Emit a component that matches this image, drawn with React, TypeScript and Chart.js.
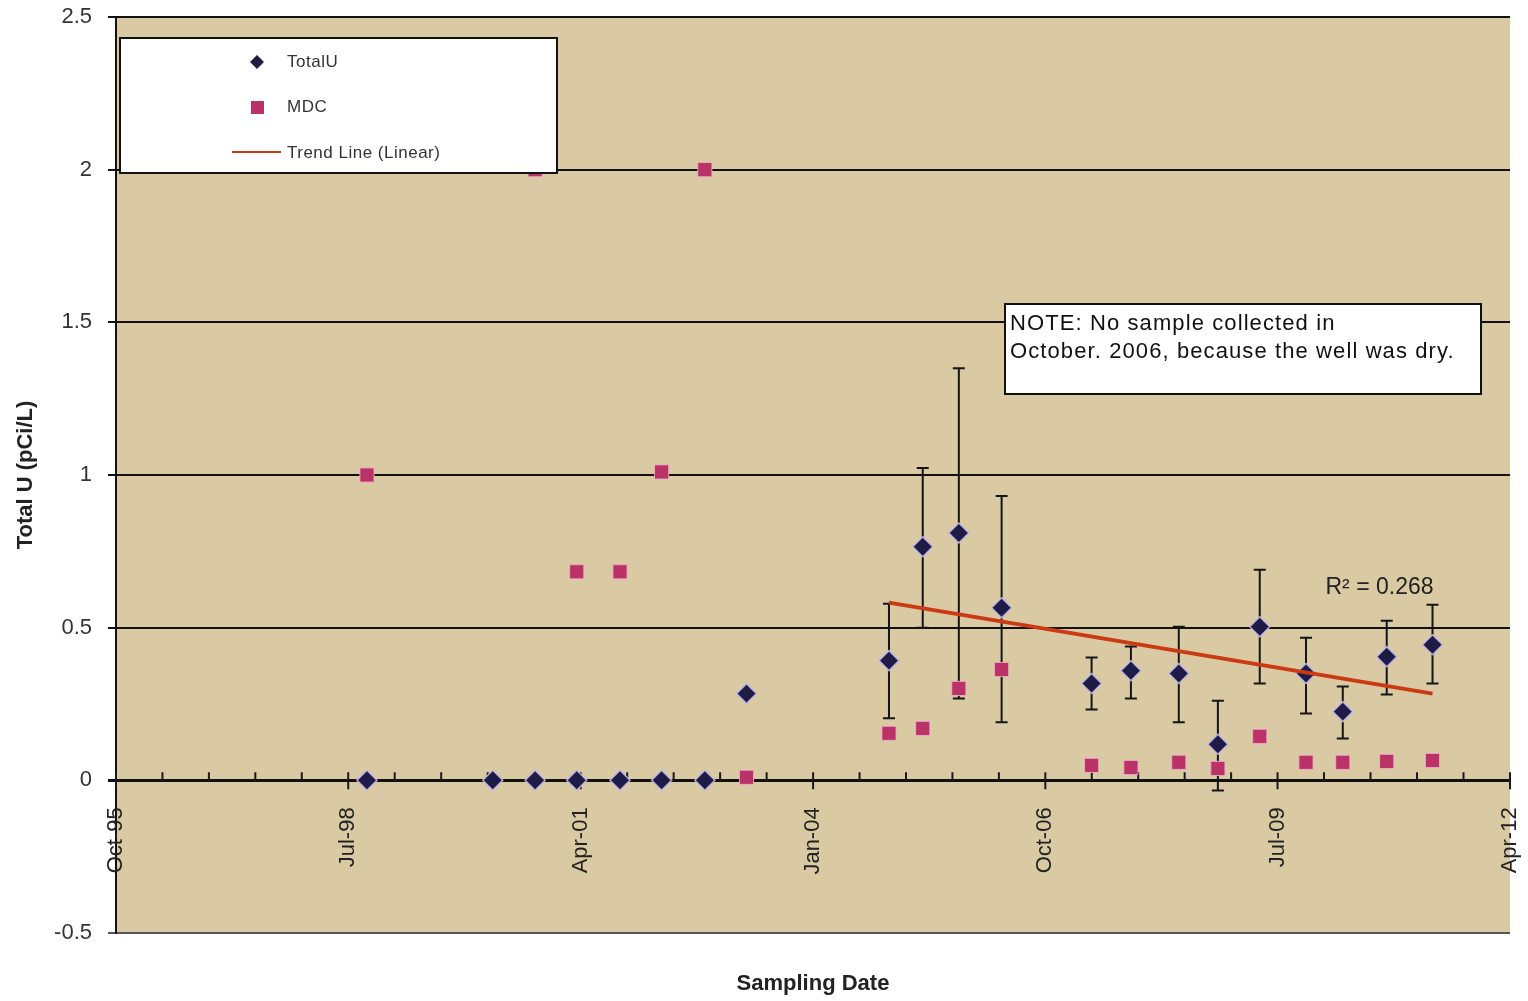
import React, { useEffect, useRef } from "react";
import { Chart, registerables } from "chart.js";

Chart.register(...registerables);

// ---- data ----
const sampleDates = [
  "1998-09-20", "2000-03-17", "2000-09-16", "2001-03-15", "2001-09-18", "2002-03-17", "2002-09-20",
  "2003-03-19", "2004-11-24", "2005-04-19", "2005-09-22", "2006-03-26", "2007-04-19", "2007-10-06",
  "2008-04-30", "2008-10-16", "2009-04-15", "2009-11-01", "2010-04-09", "2010-10-16", "2011-05-02",
];
const totalU = [
  0, 0, 0, 0, 0, 0, 0,
  0.284, 0.392, 0.765, 0.81, 0.565, 0.317, 0.359,
  0.35, 0.118, 0.503, 0.35, 0.225, 0.405, 0.444,
];
const errHigh: (number | null)[] = [
  null, null, null, null, null, null, null,
  null, 0.578, 1.023, 1.35, 0.931, 0.402, 0.438,
  0.503, 0.261, 0.69, 0.467, 0.307, 0.523, 0.575,
];
const errLow: (number | null)[] = [
  null, null, null, null, null, null, null,
  null, 0.203, 0.5, 0.268, 0.19, 0.232, 0.268,
  0.19, -0.033, 0.317, 0.219, 0.137, 0.281, 0.317,
];
const mdc: (number | null)[] = [
  1.0, null, 2.0, 0.683, 0.683, 1.01, 2.0,
  0.01, 0.154, 0.17, 0.301, 0.363, 0.049, 0.042,
  0.059, 0.039, 0.144, 0.059, 0.059, 0.062, 0.065,
];
const trendDates = ["2004-11-24", "2011-05-02"];
const trendValues = [0.582, 0.284];
const rSquaredLabel = "R² = 0.268";

const xTickDates = ["1995-10-01", "1998-07-01", "2001-04-01", "2004-01-01", "2006-10-01", "2009-07-01", "2012-04-01"];
const xTickLabels = ["Oct-95", "Jul-98", "Apr-01", "Jan-04", "Oct-06", "Jul-09", "Apr-12"];
const minorPerMajor = 5;
const yTicks = [-0.5, 0, 0.5, 1, 1.5, 2, 2.5];

const legendLabels = ["TotalU", "MDC", "Trend Line (Linear)"];
const noteLines = ["NOTE: No sample collected in", "October. 2006, because the well was dry."];
const xTitle = "Sampling Date";
const yTitle = "Total U (pCi/L)";

// ---- styles ----
const PLOT_BG = "#d9caa3";
const DIAMOND = "#1e1c46";
const SQUARE = "#bb3366";
const TREND = "#cc3a14";
const FONT = "Arial, 'Liberation Sans', sans-serif";

const toTime = (s: string) => {
  const [y, m, d] = s.split("-").map(Number);
  return Date.UTC(y, m - 1, d);
};

const bgPlugin = {
  id: "plotBg",
  beforeDraw(chart: any) {
    const { ctx, chartArea: a } = chart;
    ctx.save();
    ctx.fillStyle = PLOT_BG;
    ctx.fillRect(a.left, a.top, a.right - a.left, a.bottom - a.top);
    ctx.restore();
  },
};

const zeroAxisPlugin = {
  id: "zeroAxis",
  beforeDatasetsDraw(chart: any) {
    const { ctx } = chart;
    const x = chart.scales.x;
    const y = chart.scales.y;
    const y0 = y.getPixelForValue(0);
    ctx.save();
    ctx.strokeStyle = "#1a1a1a";
    ctx.lineWidth = 2;
    const times = xTickDates.map(toTime);
    ctx.beginPath();
    for (let i = 0; i < times.length; i++) {
      const px = x.getPixelForValue(times[i]);
      ctx.moveTo(px, y0 - 8);
      ctx.lineTo(px, y0 + 9);
      if (i < times.length - 1) {
        for (let k = 1; k < minorPerMajor; k++) {
          const t = times[i] + ((times[i + 1] - times[i]) * k) / minorPerMajor;
          const mx = x.getPixelForValue(t);
          ctx.moveTo(mx, y0 - 8);
          ctx.lineTo(mx, y0);
        }
      }
    }
    ctx.stroke();
    ctx.fillStyle = "#222";
    ctx.font = "22px " + FONT;
    ctx.textAlign = "right";
    ctx.textBaseline = "middle";
    for (let i = 0; i < times.length; i++) {
      const px = x.getPixelForValue(times[i]);
      ctx.save();
      ctx.translate(px, y0 + 27);
      ctx.rotate(-Math.PI / 2);
      ctx.fillText(xTickLabels[i], 0, 0);
      ctx.restore();
    }
    ctx.restore();
  },
};

const errorBarPlugin = {
  id: "errorBars",
  beforeDatasetsDraw(chart: any) {
    const { ctx } = chart;
    const x = chart.scales.x;
    const y = chart.scales.y;
    ctx.save();
    ctx.strokeStyle = "#151515";
    ctx.lineWidth = 2;
    sampleDates.forEach((d, i) => {
      const hi = errHigh[i];
      const lo = errLow[i];
      if (hi == null || lo == null) return;
      const px = x.getPixelForValue(toTime(d));
      const yh = y.getPixelForValue(hi);
      const yl = y.getPixelForValue(lo);
      ctx.beginPath();
      ctx.moveTo(px, yh);
      ctx.lineTo(px, yl);
      ctx.moveTo(px - 6, yh);
      ctx.lineTo(px + 6, yh);
      ctx.moveTo(px - 6, yl);
      ctx.lineTo(px + 6, yl);
      ctx.stroke();
    });
    ctx.restore();
  },
};

const overlayPlugin = {
  id: "overlays",
  afterDraw(chart: any) {
    const { ctx } = chart;
    const x = chart.scales.x;
    const y = chart.scales.y;
    ctx.save();

    // R² label near trend end
    const tx = x.getPixelForValue(toTime(trendDates[trendDates.length - 1]));
    ctx.fillStyle = "#222";
    ctx.font = "23px " + FONT;
    ctx.textAlign = "right";
    ctx.textBaseline = "middle";
    ctx.fillText(rSquaredLabel, tx + 1, y.getPixelForValue(0.632));

    // legend box
    ctx.fillStyle = "#ffffff";
    ctx.fillRect(120, 38, 437, 135);
    ctx.strokeStyle = "#111";
    ctx.lineWidth = 2;
    ctx.strokeRect(120, 38, 437, 135);
    ctx.fillStyle = DIAMOND;
    ctx.beginPath();
    ctx.moveTo(257, 55);
    ctx.lineTo(264, 62);
    ctx.lineTo(257, 69);
    ctx.lineTo(250, 62);
    ctx.closePath();
    ctx.fill();
    ctx.fillStyle = SQUARE;
    ctx.fillRect(251, 101, 13, 13);
    ctx.strokeStyle = TREND;
    ctx.lineWidth = 2;
    ctx.beginPath();
    ctx.moveTo(232, 152);
    ctx.lineTo(281, 152);
    ctx.stroke();
    ctx.fillStyle = "#333";
    ctx.font = "17px " + FONT;
    ctx.textAlign = "left";
    ctx.textBaseline = "middle";
    (ctx as any).letterSpacing = "0.5px";
    ctx.fillText(legendLabels[0], 287, 62);
    ctx.fillText(legendLabels[1], 287, 107);
    ctx.fillText(legendLabels[2], 287, 153);

    // note box
    ctx.fillStyle = "#ffffff";
    ctx.fillRect(1005, 304, 476, 90);
    ctx.strokeStyle = "#111";
    ctx.lineWidth = 2;
    ctx.strokeRect(1005, 304, 476, 90);
    ctx.fillStyle = "#111";
    ctx.font = "22px " + FONT;
    (ctx as any).letterSpacing = "1.1px";
    ctx.fillText(noteLines[0], 1010, 324);
    ctx.fillText(noteLines[1], 1010, 352);
    (ctx as any).letterSpacing = "0px";
    ctx.restore();
  },
};

export default function App() {
  const canvasRef = useRef<HTMLCanvasElement | null>(null);

  useEffect(() => {
    document.body.style.margin = "0";
    const canvas = canvasRef.current;
    if (!canvas) return;

    const chart = new Chart(canvas, {
      type: "scatter",
      data: {
        datasets: [
          {
            label: legendLabels[2],
            data: trendDates.map((d, i) => ({ x: toTime(d), y: trendValues[i] })),
            showLine: true,
            borderColor: TREND,
            borderWidth: 4,
            pointRadius: 0,
            order: 0,
          } as any,
          {
            label: legendLabels[0],
            data: sampleDates.map((d, i) => ({ x: toTime(d), y: totalU[i] })),
            pointStyle: "rectRot",
            pointRadius: 10,
            backgroundColor: DIAMOND,
            borderColor: "rgba(195,185,230,0.9)",
            borderWidth: 1.5,
            order: 1,
          },
          {
            label: legendLabels[1],
            data: sampleDates
              .map((d, i) => ({ x: toTime(d), y: mdc[i] }))
              .filter((p) => p.y != null),
            pointStyle: "rect",
            pointRadius: 10,
            backgroundColor: SQUARE,
            borderColor: "rgba(240,175,205,0.85)",
            borderWidth: 1,
            order: 2,
          },
        ],
      },
      options: {
        responsive: false,
        animation: false,
        layout: { padding: { top: 17, right: 18, left: 0, bottom: 0 } },
        plugins: {
          legend: { display: false },
          tooltip: { enabled: false },
        },
        scales: {
          x: {
            type: "linear",
            min: toTime(xTickDates[0]),
            max: toTime(xTickDates[xTickDates.length - 1]),
            grid: { display: false },
            border: { display: false },
            ticks: { display: false },
            title: {
              display: true,
              text: xTitle,
              color: "#222",
              font: { family: FONT, size: 22, weight: "bold" },
              padding: { top: 0, bottom: 4 },
            },
            afterFit: (s: any) => {
              s.height = 68;
            },
          },
          y: {
            min: -0.5,
            max: 2.5,
            afterBuildTicks: (s: any) => {
              s.ticks = yTicks.map((v) => ({ value: v }));
            },
            ticks: {
              callback: (v: any) => String(v),
              color: "#333",
              font: { family: FONT, size: 22 },
              padding: 16,
            },
            grid: {
              color: (c: any) => (c.tick && c.tick.value === -0.5 ? "#555" : "#111"),
              lineWidth: (c: any) => (c.tick && c.tick.value === 0 ? 3 : 2),
              tickLength: 8,
              drawTicks: true,
            },
            border: { display: true, color: "#111", width: 2 },
            title: {
              display: true,
              text: yTitle,
              color: "#222",
              font: { family: FONT, size: 22, weight: "bold" },
              padding: { top: 13, bottom: 0 },
            },
            afterFit: (s: any) => {
              s.width = 116;
              s.paddingTop = 12;
              s.paddingBottom = 12;
            },
          },
        },
      } as any,
      plugins: [bgPlugin, zeroAxisPlugin, errorBarPlugin, overlayPlugin],
    });

    return () => {
      chart.destroy();
    };
  }, []);

  return (
    <div style={{ width: 1528, height: 1001 }}>
      <canvas ref={canvasRef} width={1528} height={1001} style={{ display: "block" }} />
    </div>
  );
}
